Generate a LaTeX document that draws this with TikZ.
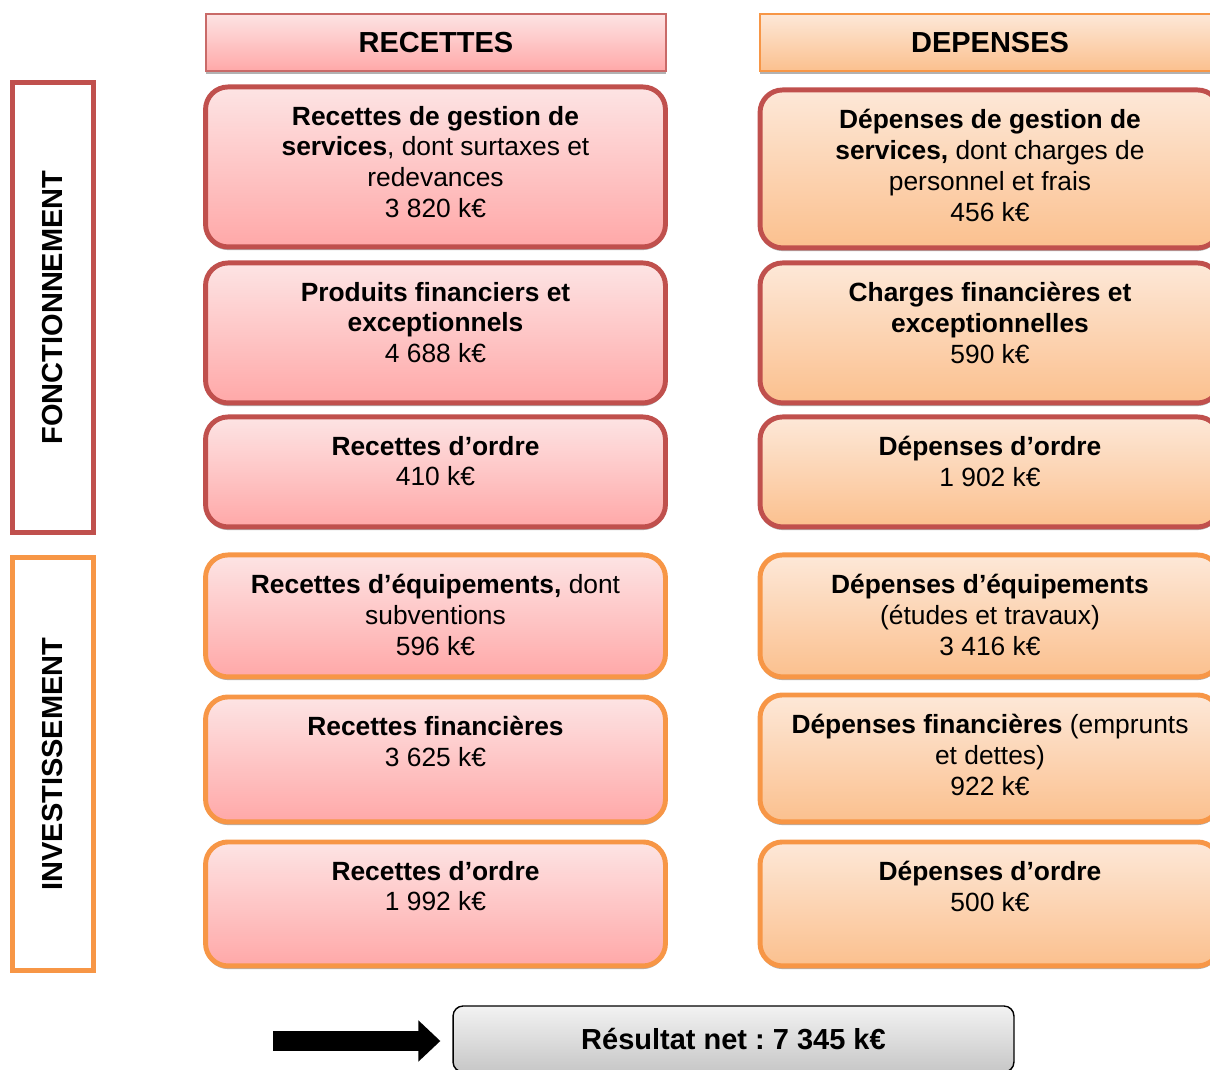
\documentclass[tikz,border=0pt]{standalone}
\usepackage{fontspec}
\setmainfont{Liberation Sans}
\usetikzlibrary{arrows.meta,shadows}
\definecolor{redline}{HTML}{C0504D}
\definecolor{orangeline}{HTML}{F79646}
\definecolor{pinktop}{HTML}{FDE4E4}
\definecolor{pinkbot}{HTML}{FFA8A8}
\definecolor{peachtop}{HTML}{FDE8D8}
\definecolor{peachbot}{HTML}{FBC08E}
\newcommand{\celltext}[2]{\parbox[c][#1][t]{8.8cm}{\centering\vspace*{0.38cm}#2}}
\frenchspacing

\begin{document}
\begin{tikzpicture}[x=0.02cm,y=-0.02cm]
         \tikzset{every node/.style={font=\fontsize{15pt}{17.6pt}\selectfont}}
         \tikzset{cell/.style={rounded corners=0.45cm,line width=2.8pt,inner sep=0pt,minimum width=9.2cm,anchor=north,
            drop shadow={shadow xshift=0pt,shadow yshift=-1.8pt,fill=black!60,opacity=0.5}}}
         \tikzset{rec/.style={cell,top color=pinktop,bottom color=pinkbot}}
         \tikzset{dep/.style={cell,top color=peachtop,bottom color=peachbot}}
         \tikzset{fon/.style={draw=redline}, inv/.style={draw=orangeline}}
         \tikzset{head/.style={line width=1.2pt,minimum width=9.2cm,minimum height=1.15cm,
            font=\fontsize{16.5pt}{19pt}\selectfont\bfseries,
            drop shadow={shadow xshift=0pt,shadow yshift=-1.8pt,fill=black!60,opacity=0.5}}}
         \tikzset{frame/.style={line width=2.8pt,fill=white,rotate=90,minimum height=1.62cm,
            font=\fontsize{16.5pt}{19pt}\selectfont\bfseries}}
         \useasboundingbox (0,0) rectangle (1210,1070);
         \node[head,draw=redline!85,top color=pinktop,bottom color=pinkbot] (recettes) at (436,42.5) {RECETTES};
         \node[head,draw=orangeline,top color=peachtop,bottom color=peachbot] (depenses) at (990,42.5) {DEPENSES};
         \node[frame,fon,minimum width=9cm] (fonct) at (53,307.5) {FONCTIONNEMENT};
         \node[frame,inv,minimum width=8.26cm] (invest) at (53,764) {INVESTISSEMENT};
         \node[rec,fon] (rgest) at (435.5,84.5) {\celltext{3.2cm}{\textbf{Recettes de gestion de}\\
            \textbf{services}, dont surtaxes et\\redevances\\3 820 k€}};
         \node[rec,fon] (rfin) at (435.5,260.5) {\celltext{2.8cm}{\textbf{Produits financiers et}\\
            \textbf{exceptionnels}\\4 688 k€}};
         \node[rec,fon] (rordf) at (435.5,414.5) {\celltext{2.2cm}{\textbf{Recettes d’ordre}\\410 k€}};
         \node[rec,inv] (requip) at (435.5,552.5) {\celltext{2.44cm}{\textbf{Recettes d’équipements,} dont\\
            subventions\\596 k€}};
         \node[rec,inv] (rfini) at (435.5,694.5) {\celltext{2.5cm}{\textbf{Recettes financières}\\3 625 k€}};
         \node[rec,inv] (rordi) at (435.5,839.5) {\celltext{2.48cm}{\textbf{Recettes d’ordre}\\1 992 k€}};
         \node[dep,fon] (dgest) at (990,87.5) {\celltext{3.16cm}{\textbf{Dépenses de gestion de}\\
            \textbf{services,} dont charges de\\personnel et frais\\456 k€}};
         \node[dep,fon] (dfin) at (990,260.5) {\celltext{2.8cm}{\textbf{Charges financières et}\\
            \textbf{exceptionnelles}\\590 k€}};
         \node[dep,fon] (dordf) at (990,414.5) {\celltext{2.2cm}{\textbf{Dépenses d’ordre}\\1 902 k€}};
         \node[dep,inv] (dequip) at (990,552.5) {\celltext{2.44cm}{\textbf{Dépenses d’équipements}\\
            (études et travaux)\\3 416 k€}};
         \node[dep,inv] (dfini) at (990,692.5) {\celltext{2.54cm}{\textbf{Dépenses financières} (emprunts\\
            et dettes)\\922 k€}};
         \node[dep,inv] (dordi) at (990,839.5) {\celltext{2.48cm}{\textbf{Dépenses d’ordre}\\500 k€}};
         \node[draw=black,line width=0.8pt,rounded corners=0.2cm,top color=black!5,bottom color=black!22,
            minimum width=11.22cm,minimum height=1.32cm,font=\fontsize{16.5pt}{19pt}\selectfont\bfseries]
            (res) at (733.5,1039) {Résultat net : 7 345 k€};
         \coordinate (arrtail) at (273,1041);
         \draw[line width=0.4cm,-{Triangle[length=0.44cm,width=0.8cm]},shorten >=0.24cm] (arrtail) -- (arrtail -| res.west);
      \end{tikzpicture}
\end{document}
